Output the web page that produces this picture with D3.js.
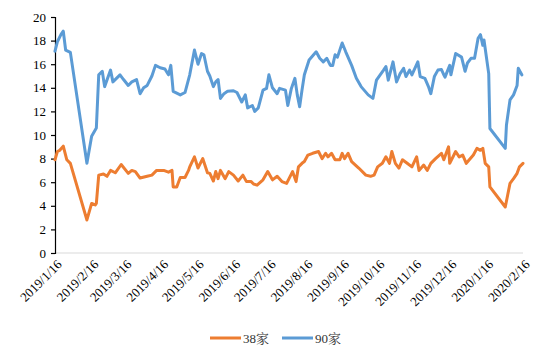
<!DOCTYPE html>
<html><head><meta charset="utf-8">
<script src="https://cdn.jsdelivr.net/npm/d3@7"></script>
<style>
html,body{margin:0;padding:0;background:#fff;}
svg{display:block;}
</style>
</head><body>
<svg id="chart" width="550" height="360"></svg>
<script>
const seriesNames = ["38家", "90家"];
const yTicks = [0, 2, 4, 6, 8, 10, 12, 14, 16, 18, 20];
const xTickLabels = ["2019/1/16","2019/2/16","2019/3/16","2019/4/16","2019/5/16","2019/6/16","2019/7/16","2019/8/16","2019/9/16","2019/10/16","2019/11/16","2019/12/16","2020/1/16","2020/2/16"];

const dates38 = ["2019-01-16","2019-01-18","2019-01-20","2019-01-23","2019-01-26","2019-01-29","2019-02-12","2019-02-16","2019-02-19","2019-02-20","2019-02-22","2019-02-26","2019-03-01","2019-03-04","2019-03-08","2019-03-13","2019-03-19","2019-03-22","2019-03-25","2019-03-29","2019-04-04","2019-04-08","2019-04-12","2019-04-18","2019-04-22","2019-04-25","2019-04-26","2019-04-29","2019-05-02","2019-05-06","2019-05-09","2019-05-10","2019-05-14","2019-05-17","2019-05-21","2019-05-25","2019-05-27","2019-05-30","2019-06-01","2019-06-03","2019-06-05","2019-06-09","2019-06-12","2019-06-16","2019-06-20","2019-06-24","2019-06-27","2019-07-01","2019-07-03","2019-07-06","2019-07-11","2019-07-15","2019-07-19","2019-07-23","2019-07-27","2019-07-31","2019-08-05","2019-08-08","2019-08-10","2019-08-13","2019-08-15","2019-08-18","2019-08-22","2019-08-27","2019-08-30","2019-09-02","2019-09-04","2019-09-07","2019-09-10","2019-09-14","2019-09-16","2019-09-18","2019-09-21","2019-09-24","2019-09-30","2019-10-06","2019-10-10","2019-10-13","2019-10-16","2019-10-20","2019-10-23","2019-10-26","2019-10-28","2019-10-31","2019-11-03","2019-11-06","2019-11-10","2019-11-14","2019-11-18","2019-11-20","2019-11-24","2019-11-27","2019-11-30","2019-12-04","2019-12-09","2019-12-11","2019-12-15","2019-12-16","2019-12-21","2019-12-24","2019-12-27","2019-12-30","2020-01-05","2020-01-08","2020-01-11","2020-01-13","2020-01-15","2020-01-18","2020-01-19","2020-02-01","2020-02-03","2020-02-05","2020-02-08","2020-02-11","2020-02-13","2020-02-16"];
const values38 = [7.9,8.6,8.7,9.05,7.9,7.6,2.8,4.2,4.07,4.2,6.6,6.7,6.5,7.0,6.8,7.5,6.75,7.0,6.9,6.35,6.5,6.6,7.0,7.0,6.85,7.0,5.6,5.6,6.4,6.4,7.0,7.3,8.15,7.2,8.0,6.8,6.75,6.1,6.9,6.3,7.0,6.3,6.9,6.6,6.1,6.6,6.05,6.05,5.85,5.75,6.2,6.9,6.2,6.5,6.05,5.9,6.9,6.05,7.3,7.6,7.75,8.3,8.45,8.6,8.0,8.45,8.15,8.45,7.9,7.9,8.45,8.0,8.45,7.75,7.2,6.6,6.5,6.6,7.3,7.6,8.15,7.6,8.6,7.6,7.2,7.9,7.6,7.3,8.15,7.0,7.45,7.0,7.6,8.0,8.45,7.9,9.0,7.6,8.6,8.15,8.3,7.6,8.3,8.87,8.7,8.87,7.6,7.3,5.6,3.9,4.9,5.9,6.3,6.75,7.3,7.6];

const dates90 = ["2019-01-16","2019-01-18","2019-01-21","2019-01-23","2019-01-25","2019-01-29","2019-02-12","2019-02-16","2019-02-20","2019-02-22","2019-02-25","2019-02-27","2019-03-04","2019-03-06","2019-03-09","2019-03-12","2019-03-15","2019-03-19","2019-03-22","2019-03-26","2019-03-29","2019-04-01","2019-04-04","2019-04-08","2019-04-11","2019-04-15","2019-04-19","2019-04-22","2019-04-24","2019-04-26","2019-05-02","2019-05-06","2019-05-10","2019-05-14","2019-05-17","2019-05-20","2019-05-22","2019-05-25","2019-05-27","2019-05-30","2019-06-01","2019-06-03","2019-06-05","2019-06-08","2019-06-11","2019-06-16","2019-06-19","2019-06-23","2019-06-26","2019-06-28","2019-07-02","2019-07-04","2019-07-07","2019-07-11","2019-07-14","2019-07-16","2019-07-19","2019-07-23","2019-07-25","2019-07-30","2019-08-01","2019-08-04","2019-08-07","2019-08-09","2019-08-11","2019-08-13","2019-08-15","2019-08-19","2019-08-25","2019-08-28","2019-08-31","2019-09-03","2019-09-06","2019-09-08","2019-09-10","2019-09-12","2019-09-16","2019-09-19","2019-09-24","2019-09-28","2019-10-02","2019-10-08","2019-10-12","2019-10-15","2019-10-21","2019-10-23","2019-10-25","2019-10-29","2019-11-01","2019-11-04","2019-11-07","2019-11-09","2019-11-12","2019-11-14","2019-11-19","2019-11-21","2019-11-25","2019-11-28","2019-11-30","2019-12-03","2019-12-06","2019-12-09","2019-12-11","2019-12-12","2019-12-16","2019-12-17","2019-12-21","2019-12-26","2019-12-29","2019-12-31","2020-01-03","2020-01-06","2020-01-09","2020-01-11","2020-01-13","2020-01-14","2020-01-18","2020-01-19","2020-02-01","2020-02-02","2020-02-05","2020-02-08","2020-02-11","2020-02-12","2020-02-15"];
const values90 = [17.1,17.9,18.5,18.8,17.2,17.0,7.6,9.9,10.6,15.1,15.4,14.1,15.5,14.5,14.8,15.1,14.7,14.2,14.5,14.7,13.5,14.0,14.2,15.0,15.9,15.7,15.6,15.1,15.9,13.7,13.4,13.6,15.1,17.2,16.0,16.9,16.8,15.4,15.0,14.1,14.5,14.7,13.1,13.5,13.7,13.75,13.6,12.8,13.4,12.3,12.5,12.0,12.3,13.8,13.95,15.1,14.0,13.5,13.95,13.8,12.5,13.95,14.8,13.4,12.4,13.8,15.1,16.35,17.05,16.5,16.2,16.5,15.9,15.9,16.8,16.6,17.8,17.05,15.9,14.8,14.1,13.4,13.1,14.65,15.5,15.8,14.65,16.2,14.5,15.2,15.65,14.95,15.5,15.1,16.2,14.95,14.8,14.1,13.5,14.95,15.5,15.55,15.1,14.9,15.9,15.1,16.9,16.6,15.4,16.1,16.5,16.5,18.2,18.5,17.6,18.05,15.2,10.55,8.87,10.85,12.97,13.4,14.2,15.65,15.1];

(function () {
const parse = d3.timeParse("%Y-%m-%d");
const tickDates = xTickLabels.map(s => d3.timeParse("%Y/%m/%d")(s));
const s38 = dates38.map((d, i) => ({date: parse(d), value: values38[i]}));
const s90 = dates90.map((d, i) => ({date: parse(d), value: values90[i]}));

const svg = d3.select("#chart");
const pL = 55, pR = 523, pT = 17, pB = 253;
const x = d3.scaleTime().domain([tickDates[0], tickDates[tickDates.length - 1]]).range([pL, pR]);
const y = d3.scaleLinear().domain([0, 20]).range([pB, pT]);
const serif = "Liberation Serif";

svg.append("line").attr("x1", pL).attr("x2", pR).attr("y1", y(0)).attr("y2", y(0))
  .attr("stroke", "#d9d9d9").attr("stroke-width", 1);

const xAxis = d3.axisBottom(x).tickValues(tickDates).tickSize(0).tickFormat((d, i) => xTickLabels[i]);
const gx = svg.append("g").attr("transform", `translate(0,${y(0)})`).call(xAxis);
gx.attr("font-family", serif).attr("font-size", 13);
gx.select(".domain").remove();
gx.selectAll("text")
  .attr("font-family", serif).attr("font-size", 13).attr("fill", "#000")
  .attr("text-anchor", "end")
  .attr("transform", "translate(4,9) rotate(-45)")
  .attr("dy", "0.35em").attr("y", 0).attr("x", 0);

const yAxis = d3.axisLeft(y).tickValues(yTicks).tickSize(4).tickPadding(5).tickFormat(d3.format("d"));
const gy = svg.append("g").attr("transform", `translate(${pL},0)`).call(yAxis);
gy.attr("font-family", serif).attr("font-size", 13);
gy.select(".domain").attr("stroke", "#000").attr("stroke-width", 1.2);
gy.selectAll(".tick line").attr("stroke", "#000").attr("stroke-width", 1.2);
gy.selectAll("text").attr("font-family", serif).attr("font-size", 13).attr("fill", "#000");

const line = d3.line().x(d => x(d.date)).y(d => y(d.value));
const colors = ["#ED7D31", "#5B9BD5"];
[s38, s90].forEach((s, i) => {
  svg.append("path").datum(s).attr("d", line).attr("fill", "none")
    .attr("stroke", colors[i]).attr("stroke-width", 3).attr("stroke-linejoin", "round").attr("stroke-linecap", "round");
});

const legendX = [210, 282];
seriesNames.forEach((name, i) => {
  const g = svg.append("g").attr("transform", `translate(${legendX[i]},338)`);
  g.append("line").attr("x1", 0).attr("x2", 31).attr("y1", 0).attr("y2", 0)
    .attr("stroke", colors[i]).attr("stroke-width", 3);
  g.append("text").attr("x", 33).attr("y", 0).attr("dy", "0.35em")
    .attr("font-family", "Liberation Serif, Noto Serif CJK SC").attr("font-size", 13).attr("fill", "#333").text(name);
});
})();
</script>
</body></html>
